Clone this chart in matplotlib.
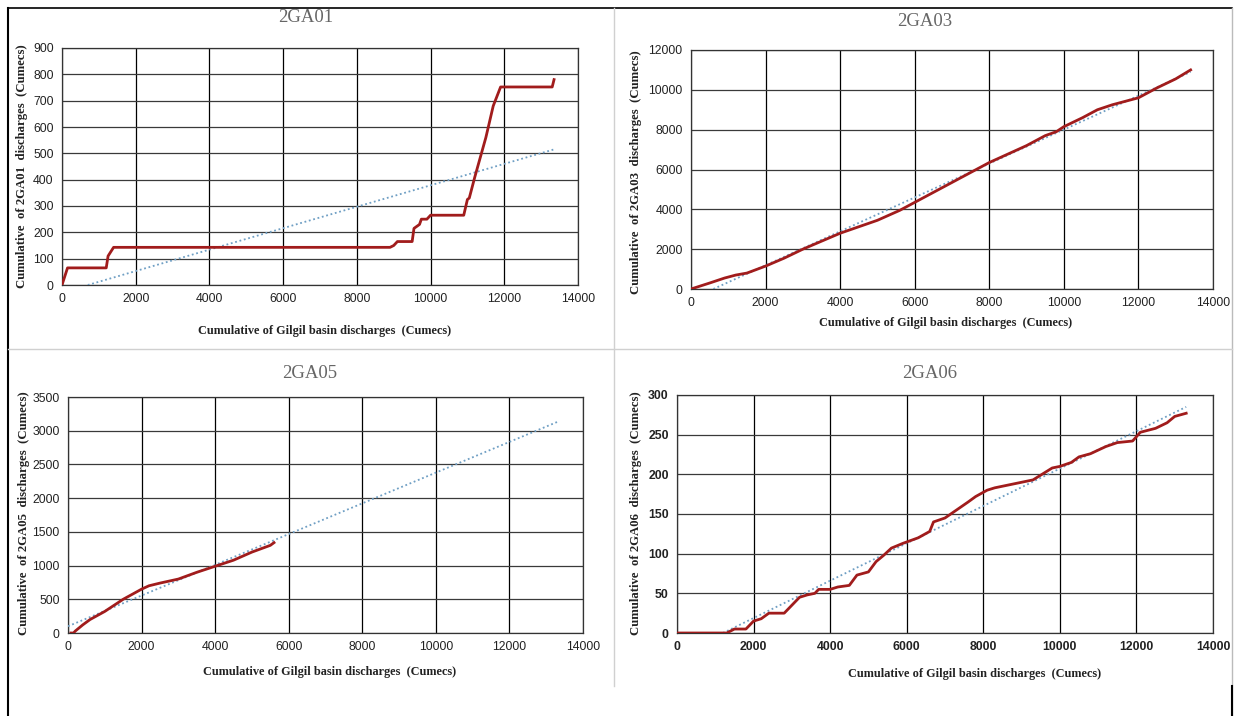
import matplotlib
matplotlib.use("Agg")
import matplotlib.pyplot as plt
from matplotlib.lines import Line2D

# 2GA01
x01 = [0, 150, 1200, 1250, 1400, 8900, 9000, 9100, 9500, 9550, 9700, 9750, 9900, 10000,
       10900, 11000, 11050, 11200, 11500, 11700, 11900, 13300, 13350]
y01 = [0, 65, 65, 110, 143, 143, 150, 165, 165, 215, 230, 250, 250, 265,
       265, 325, 330, 410, 560, 680, 752, 752, 780]
t01_x = [700, 13350]
t01_y = [0, 515]

# 2GA03
x03 = [0, 500, 900, 1200, 1500, 2000, 2500, 3000, 4000, 5000, 5600, 6000, 7000, 8000,
       9000, 9500, 9800, 10000, 10500, 10900, 11300, 12000, 12500, 13000, 13400]
y03 = [0, 300, 550, 700, 800, 1150, 1550, 2000, 2800, 3450, 3950, 4350, 5350, 6350,
       7200, 7700, 7900, 8150, 8600, 9000, 9250, 9600, 10100, 10550, 11000]
t03_x = [600, 13400]
t03_y = [0, 10900]

# 2GA05
x05 = [80, 150, 200, 400, 600, 1000, 1500, 2000, 2200, 2500, 3000, 3500, 4000, 4500,
       5000, 5500, 5600]
y05 = [0, 0, 30, 120, 200, 320, 500, 650, 700, 740, 800, 900, 990, 1080,
       1200, 1300, 1340]
t05_x = [0, 13300]
t05_y = [100, 3130]

# 2GA06
x06 = [0, 1300, 1500, 1800, 2000, 2200, 2400, 2800, 3000, 3200, 3400, 3600, 3700, 4000,
       4200, 4500, 4700, 5000, 5200, 5400, 5600, 5900, 6300, 6600, 6700, 7000, 7300,
       7600, 7800, 8100, 8300, 8600, 9000, 9300, 9600, 9800, 10000, 10300, 10500,
       10800, 11200, 11500, 11900, 12100, 12500, 12800, 13000, 13300]
y06 = [0, 0, 5, 5, 15, 18, 25, 25, 35, 45, 48, 50, 55, 55,
       58, 60, 73, 77, 90, 98, 107, 113, 120, 128, 140, 145, 155,
       165, 172, 180, 183, 186, 190, 193, 202, 208, 210, 215, 222,
       226, 235, 240, 242, 253, 258, 265, 273, 277]
t06_x = [1200, 13300]
t06_y = [0, 285]

W, H = 1238, 716
fig = plt.figure(figsize=(W / 100, H / 100), dpi=100)

serif = "Liberation Serif"
sans = "Liberation Sans"
red = "#a11c1c"
trend = "#6f9fc4"
xlab = "Cumulative of Gilgil basin discharges  (Cumecs)"


def px(x, y):
    return x / W, 1 - y / H


def panel(box, x, y, tx, ty, ymax, ystep, name, title_xy, xlab_xy, ylab_xy, tickweight="normal"):
    left, top, right, bottom = box
    ax = fig.add_axes([left / W, 1 - bottom / H, (right - left) / W, (bottom - top) / H])
    ax.plot(tx, ty, color=trend, lw=1.3, ls=(0, (1, 1.5)), zorder=3)
    ax.plot(x, y, color=red, lw=2, zorder=4)
    ax.set_xlim(0, 14000)
    ax.set_ylim(0, ymax)
    ax.set_xticks(range(0, 14001, 2000))
    ax.set_yticks(range(0, ymax + 1, ystep))
    ax.grid(True, axis="x", color="black", lw=0.9)
    ax.grid(True, axis="y", color="#3a3a3a", lw=0.9)
    ax.set_axisbelow(True)
    for s in ax.spines.values():
        s.set_color("#333333")
        s.set_linewidth(0.9)
    ax.tick_params(length=0, labelsize=8.8, pad=6, colors="#222222")
    for lab in ax.get_xticklabels() + ax.get_yticklabels():
        lab.set_family(sans)
        lab.set_fontweight(tickweight)
    fig.text(*px(*title_xy), name, ha="center", va="center", family=serif,
             fontsize=13.5, color="#666666")
    fig.text(*px(*xlab_xy), xlab, ha="center", va="center", family=serif,
             fontsize=8.8, fontweight="bold", color="#222222")
    fig.text(*px(*ylab_xy), "Cumulative  of " + name + "  discharges  (Cumecs)",
             ha="center", va="center", rotation=90, family=serif,
             fontsize=9.2, fontweight="bold", color="#222222")


panel((62, 48, 578, 285), x01, y01, t01_x, t01_y, 900, 100, "2GA01",
      (306, 18), (325, 331), (22, 166))
panel((691, 50, 1213, 289), x03, y03, t03_x, t03_y, 12000, 2000, "2GA03",
      (925, 22), (946, 323), (636, 172))
panel((68, 397, 583, 633), x05, y05, t05_x, t05_y, 3500, 500, "2GA05",
      (310, 374), (330, 672), (24, 513))
panel((677, 395, 1213, 633), x06, y06, t06_x, t06_y, 300, 50, "2GA06",
      (930, 374), (975, 674), (636, 513), tickweight="bold")

# table-like frame around the panels
def line(xs, ys, color, lw):
    fig.add_artist(Line2D([a / W for a in xs], [1 - b / H for b in ys],
                          color=color, lw=lw, transform=fig.transFigure))

line([8, 1232], [8, 8], "black", 1.2)
line([8, 8], [8, 716], "black", 1.5)
line([1232, 1232], [8, 716], "#bbbbbb", 1.0)
line([1232, 1232], [686, 716], "black", 1.5)
line([8, 1232], [349, 349], "#d0d0d0", 1.0)
line([614, 614], [8, 686], "#d0d0d0", 1.0)

fig.savefig("out.png", dpi=100)
